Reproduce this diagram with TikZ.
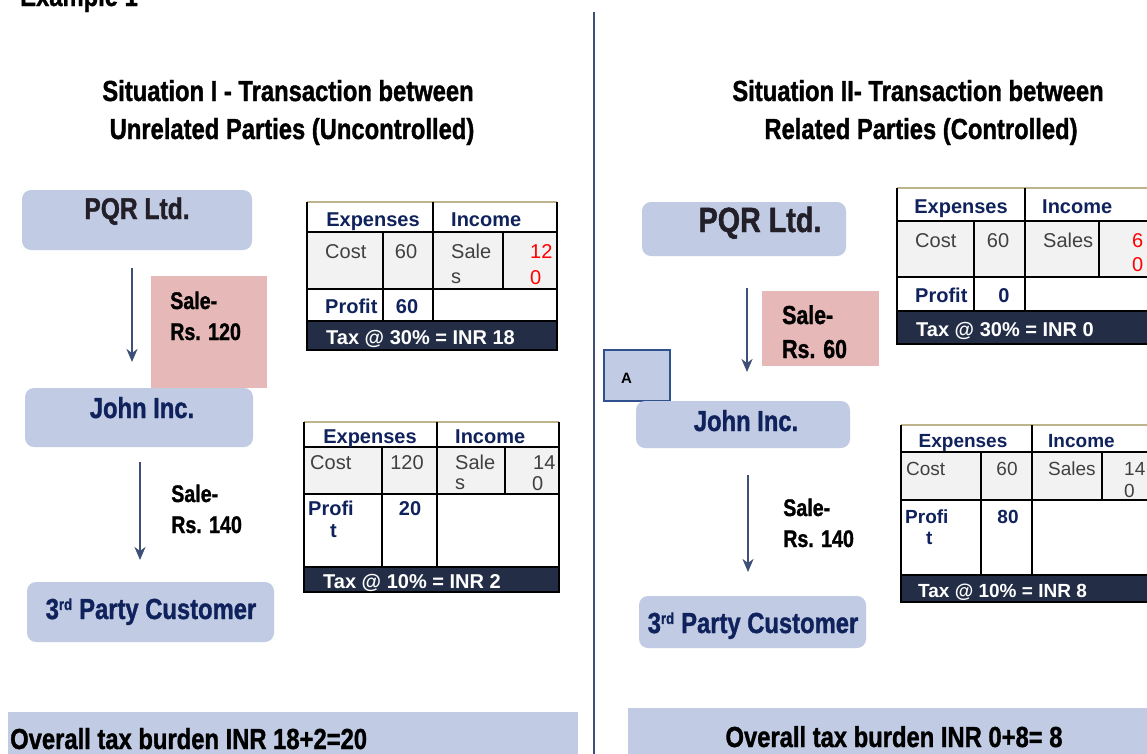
\documentclass[tikz,border=0pt]{standalone}
\usepackage{fontspec}
\setmainfont{Liberation Sans}
\newfontfamily\narrowsf[FakeStretch=0.82, BoldFeatures={FakeBold=1.2}]{Liberation Sans}
\usetikzlibrary{arrows.meta}

\definecolor{boxblue}{RGB}{193,204,228}
\definecolor{salepink}{RGB}{230,184,183}
\definecolor{navytext}{RGB}{16,34,92}
\definecolor{inktext}{RGB}{35,31,40}
\definecolor{arrowblue}{RGB}{62,80,120}
\definecolor{taxfill}{RGB}{35,46,70}
\definecolor{cellgrey}{RGB}{242,242,242}
\definecolor{costgrey}{RGB}{64,64,64}
\definecolor{rulecol}{RGB}{190,180,140}
\definecolor{tagblue}{RGB}{47,82,143}

\begin{document}
\begin{tikzpicture}[
        x = 1pt, y = -1pt,
        entity/.style = {
            fill = boxblue,
            rounded corners = 9pt,
            inner sep = 0pt,
            outer sep = 0pt
        },
        salebox/.style = {
            fill = salepink,
            inner sep = 0pt,
            outer sep = 0pt
        },
        head/.style = {
            font = {\narrowsf\bfseries\fontsize{#1}{#1}\selectfont},
            inner sep = 0pt,
            anchor = base
        },
        head/.default = 29,
        cell/.style = {
            font = {\fontsize{#1}{#1}\selectfont},
            text = costgrey,
            inner sep = 0pt,
            anchor = base west
        },
        cell/.default = 20,
        cellhead/.style = {
            cell = #1,
            font = {\bfseries\fontsize{#1}{#1}\selectfont},
            text = navytext
        },
        cellhead/.default = 20,
        taxtext/.style = {
            cellhead = #1,
            text = white
        },
        taxtext/.default = 20,
        rule/.style = {line width = 1.2pt, black},
        flow/.style = {-{Stealth[length=13pt, width=11pt, inset=4pt]}, line width = 2pt, arrowblue}
        ]
%
        \useasboundingbox (0,0) rectangle (1147,753);
        \fill[white] (0,0) rectangle (1147,753);
%
        \node[head, anchor=base west] (example) at (20,6) {Example 1};
%
        \coordinate (divtop) at (594,12);
        \coordinate (divbot) at (594,760);
        \draw[line width = 1.3pt, arrowblue] (divtop) -- (divbot);
%
% situation I
        \node[head] (sitLa) at (288,101) {Situation I - Transaction between};
        \node[head] (sitLb) at (292,139) {Unrelated Parties (Uncontrolled)};
%
        \node[entity, minimum width=230pt, minimum height=60pt] (pqrL) at (137,220) {};
        \node[head=30, text=inktext] (pqrLt) at (137,219) {PQR Ltd.};
%
        \node[salebox, minimum width=116pt, minimum height=112pt] (saleL) at (209,332) {};
        \node[head=24, anchor=base west] (saleLa) at (170,309) {Sale-};
        \node[head=24, anchor=base west] (saleLb) at (170,340) {Rs. 120};
%
        \node[entity, minimum width=228pt, minimum height=59pt] (johnL) at (139,417.5) {};
        \node[head, text=navytext] (johnLt) at (142,418) {John Inc.};
%
        \node[head=24, anchor=base west] (resaleLa) at (171,502) {Sale-};
        \node[head=24, anchor=base west] (resaleLb) at (171,533) {Rs. 140};
%
        \node[entity, minimum width=247pt, minimum height=60pt] (custL) at (150.5,612) {};
        \node[head, text=navytext] (custLt) at (151,619) {3\textsuperscript{\fontsize{16}{16}\selectfont rd} Party Customer};
%
        \coordinate (a1s) at (132,268);
        \coordinate (a1e) at (132,362);
        \coordinate (a2s) at (140,462);
        \coordinate (a2e) at (140,560);
        \draw[flow] (a1s) -- (a1e);
        \draw[flow] (a2s) -- (a2e);
%
% ledger of PQR Ltd., situation I
        \fill[cellgrey] (307,232) rectangle (557,289);
        \fill[taxfill] (307,321) rectangle (557,350);
        \draw[rule, rulecol] (307,202) -- (557,202);
        \draw[rule] (307,202) -- (307,350) -- (557,350) -- (557,202);
        \draw[rule] (307,232) -- (557,232);
        \draw[rule] (307,289) -- (557,289);
        \draw[rule] (307,321) -- (557,321);
        \draw[rule] (383,232) -- (383,321);
        \draw[rule] (433,202) -- (433,321);
        \draw[rule] (503,232) -- (503,289);
%
        \node[cellhead, anchor=base] (t1exp) at (373,226) {Expenses};
        \node[cellhead] (t1inc) at (451,226) {Income};
        \node[cell] (t1cost) at (325,258) {Cost};
        \node[cell, anchor=base] (t1costv) at (406,258) {60};
        \node[cell] (t1sale) at (451,258) {Sale};
        \node[cell] (t1saleb) at (451,283) {s};
        \node[cell, text=red] (t1salev) at (530,258) {12};
        \node[cell, text=red] (t1salevb) at (530,284) {0};
        \node[cellhead] (t1prof) at (325,313) {Profit};
        \node[cellhead, anchor=base] (t1profv) at (407,313) {60};
        \node[taxtext] (t1tax) at (326,344) {Tax @ 30\% = INR 18};
%
% ledger of John Inc., situation I
        \fill[cellgrey] (304,447) rectangle (559,494);
        \fill[taxfill] (304,567) rectangle (559,592);
        \draw[rule, rulecol] (304,422) -- (559,422);
        \draw[rule] (304,422) -- (304,592) -- (559,592) -- (559,422);
        \draw[rule] (304,447) -- (559,447);
        \draw[rule] (304,494) -- (559,494);
        \draw[rule] (304,567) -- (559,567);
        \draw[rule] (382,447) -- (382,567);
        \draw[rule] (437,422) -- (437,567);
        \draw[rule] (505,447) -- (505,494);
%
        \node[cellhead, anchor=base] (t2exp) at (370,443) {Expenses};
        \node[cellhead] (t2inc) at (455,443) {Income};
        \node[cell] (t2cost) at (310,469) {Cost};
        \node[cell, anchor=base] (t2costv) at (407,469) {120};
        \node[cell] (t2sale) at (455,469) {Sale};
        \node[cell] (t2saleb) at (455,489) {s};
        \node[cell] (t2salev) at (533,469) {14};
        \node[cell] (t2salevb) at (532,490) {0};
        \node[cellhead] (t2prof) at (308,515) {Profi};
        \node[cellhead] (t2profb) at (330,537) {t};
        \node[cellhead, anchor=base] (t2profv) at (410,515) {20};
        \node[taxtext] (t2tax) at (323,588) {Tax @ 10\% = INR 2};
%
        \node[entity, rounded corners=0pt, minimum width=570pt, minimum height=48pt] (burdenL) at (293,736) {};
        \node[head, anchor=base west] (burdenLt) at (10,749) {Overall tax burden INR 18+2=20};
%
% situation II
        \node[head] (sitRa) at (918,101) {Situation II- Transaction between};
        \node[head] (sitRb) at (921,139) {Related Parties (Controlled)};
%
        \node[entity, minimum width=204pt, minimum height=54pt] (pqrR) at (744,229) {};
        \node[head=35, text=inktext] (pqrRt) at (760,232) {PQR Ltd.};
%
        \node[salebox, minimum width=117pt, minimum height=75pt] (saleR) at (820.5,328.5) {};
        \node[head=26, anchor=base west] (saleRa) at (782,324) {Sale-};
        \node[head=26, anchor=base west] (saleRb) at (782,358) {Rs. 60};
%
        \node[fill=boxblue, draw=tagblue, line width=1.5pt, minimum width=66pt, minimum height=51pt, inner sep=0pt] (tagA) at (637,375.5) {};
        \node[cellhead=15, text=black] (tagAt) at (621,383) {A};
%
        \node[entity, minimum width=214pt, minimum height=47pt] (johnR) at (743,424.5) {};
        \node[head, text=navytext] (johnRt) at (746,431) {John Inc.};
%
        \node[head=24, anchor=base west] (resaleRa) at (783,516) {Sale-};
        \node[head=24, anchor=base west] (resaleRb) at (783,547) {Rs. 140};
%
        \node[entity, minimum width=227pt, minimum height=52pt] (custR) at (752.5,622) {};
        \node[head, text=navytext] (custRt) at (753,633) {3\textsuperscript{\fontsize{16}{16}\selectfont rd} Party Customer};
%
        \coordinate (a3s) at (747,288);
        \coordinate (a3e) at (747,372);
        \coordinate (a4s) at (748,475);
        \coordinate (a4e) at (748,572);
        \draw[flow] (a3s) -- (a3e);
        \draw[flow] (a4s) -- (a4e);
%
% ledger of PQR Ltd., situation II
        \fill[cellgrey] (897,221) rectangle (1165,277);
        \fill[taxfill] (897,311) rectangle (1165,344);
        \draw[rule, rulecol] (897,188) -- (1165,188);
        \draw[rule] (897,188) -- (897,344) -- (1165,344);
        \draw[rule] (897,221) -- (1165,221);
        \draw[rule] (897,277) -- (1165,277);
        \draw[rule] (897,311) -- (1165,311);
        \draw[rule] (974,221) -- (974,311);
        \draw[rule] (1025,188) -- (1025,311);
        \draw[rule] (1099,221) -- (1099,277);
%
        \node[cellhead, anchor=base] (t3exp) at (961,213) {Expenses};
        \node[cellhead] (t3inc) at (1042,213) {Income};
        \node[cell] (t3cost) at (915,247) {Cost};
        \node[cell, anchor=base] (t3costv) at (998,247) {60};
        \node[cell] (t3sale) at (1043,247) {Sales};
        \node[cell, text=red] (t3salev) at (1132,247) {6};
        \node[cell, text=red] (t3salevb) at (1132,271) {0};
        \node[cellhead] (t3prof) at (915,302) {Profit};
        \node[cellhead, anchor=base] (t3profv) at (1004,302) {0};
        \node[taxtext] (t3tax) at (916,336) {Tax @ 30\% = INR 0};
%
% ledger of John Inc., situation II
        \fill[cellgrey] (901,452) rectangle (1165,500);
        \fill[taxfill] (901,575) rectangle (1165,602);
        \draw[rule, rulecol] (901,425) -- (1165,425);
        \draw[rule] (901,425) -- (901,602) -- (1165,602);
        \draw[rule] (901,452) -- (1165,452);
        \draw[rule] (901,500) -- (1165,500);
        \draw[rule] (901,575) -- (1165,575);
        \draw[rule] (981,452) -- (981,575);
        \draw[rule] (1032,425) -- (1032,575);
        \draw[rule] (1102,452) -- (1102,500);
%
        \node[cellhead=19, anchor=base] (t4exp) at (963,447) {Expenses};
        \node[cellhead=19] (t4inc) at (1048,447) {Income};
        \node[cell=19] (t4cost) at (906,475) {Cost};
        \node[cell=19, anchor=base] (t4costv) at (1007,475) {60};
        \node[cell=19] (t4sale) at (1048,475) {Sales};
        \node[cell=19] (t4salev) at (1124,475) {14};
        \node[cell=19] (t4salevb) at (1124,497) {0};
        \node[cellhead=19] (t4prof) at (905,523) {Profi};
        \node[cellhead=19] (t4profb) at (926,544) {t};
        \node[cellhead=19, anchor=base] (t4profv) at (1008,523) {80};
        \node[taxtext=19] (t4tax) at (918,597) {Tax @ 10\% = INR 8};
%
        \node[entity, rounded corners=0pt, minimum width=532pt, minimum height=52pt] (burdenR) at (894,734) {};
        \node[head] (burdenRt) at (894,747) {Overall tax burden INR 0+8= 8};
%
    \end{tikzpicture}
\end{document}
